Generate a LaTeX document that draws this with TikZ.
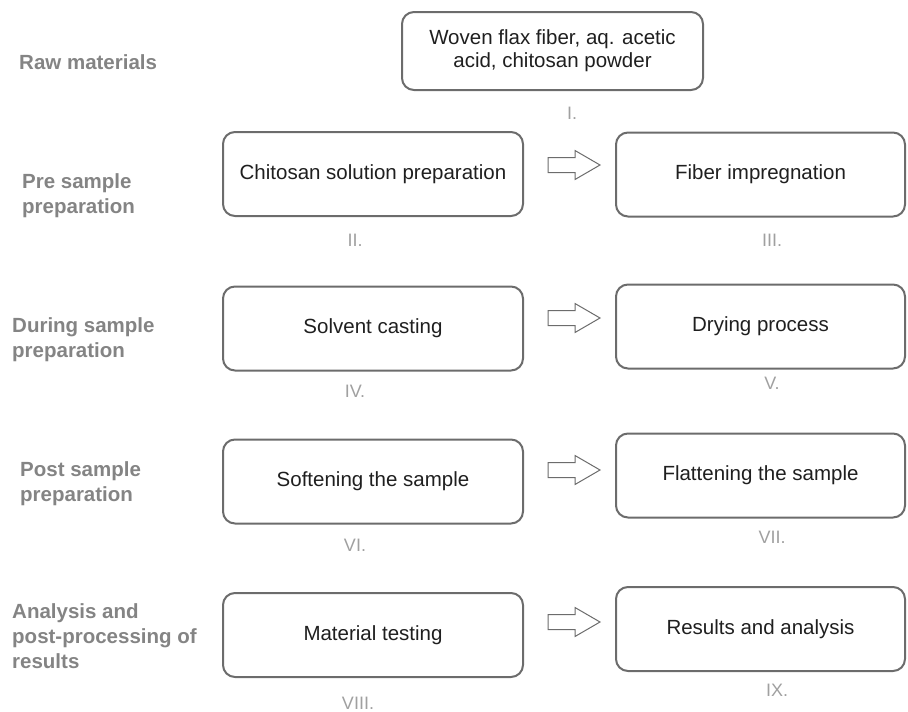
\documentclass[tikz,border=0pt]{standalone}
\usepackage{fontspec}
\setmainfont{Liberation Sans}
\definecolor{boxgray}{HTML}{6C6C6C}
\definecolor{numgray}{HTML}{A0A0A0}
\definecolor{stagegray}{HTML}{848484}
\tikzset{
  stepbox/.style={draw=boxgray, line width=2pt, rounded corners=12pt,
    minimum height=84pt, align=center, text=black!88,
    font=\fontsize{20.5}{23}\selectfont},
  leftbox/.style={stepbox, minimum width=300pt},
  rightbox/.style={stepbox, minimum width=289pt},
  numlabel/.style={text=numgray, font=\fontsize{18}{21}\selectfont},
  stagelabel/.style={text=stagegray, anchor=north west, inner sep=0pt, align=left,
    font=\bfseries\fontsize{20.5}{25}\selectfont},
  flowarrow/.style={draw=boxgray, line width=1pt, fill=white, line join=miter}
}
\begin{document}
\begin{tikzpicture}[x=1pt, y=-1pt]
  \useasboundingbox (0,0) rectangle (908,712);

  % stages
  \node[stagelabel] (sraw) at (19,54) {Raw materials};
  \node[stagelabel] (spre) at (22,173) {Pre sample\\preparation};
  \node[stagelabel] (sdur) at (12,317) {During sample\\preparation};
  \node[stagelabel] (spost) at (20,461) {Post sample\\preparation};
  \node[stagelabel] (sana) at (12,603) {Analysis and\\post-processing of\\results};

  % process steps
  \node[stepbox, minimum width=301pt, minimum height=78pt] (raw) at (552.5,51) {Woven flax fiber, aq. acetic\\acid, chitosan powder};
  \node[leftbox] (solprep) at (373,174) {Chitosan solution preparation};
  \node[rightbox] (impreg) at (760.5,174.5) {Fiber impregnation};
  \node[leftbox] (casting) at (373,328.5) {Solvent casting};
  \node[rightbox] (drying) at (760.5,326.5) {Drying process};
  \node[leftbox] (soften) at (373,481.5) {Softening the sample};
  \node[rightbox] (flatten) at (760.5,475.5) {Flattening the sample};
  \node[leftbox] (testing) at (373,635) {Material testing};
  \node[rightbox] (results) at (760.5,629) {Results and analysis};

  % step numbers
  \node[numlabel] (n1) at (572,113) {I.};
  \node[numlabel] (n2) at (355,240) {II.};
  \node[numlabel] (n3) at (772,240) {III.};
  \node[numlabel] (n4) at (355,391) {IV.};
  \node[numlabel] (n5) at (772,383) {V.};
  \node[numlabel] (n6) at (355,545) {VI.};
  \node[numlabel] (n7) at (772,537) {VII.};
  \node[numlabel] (n8) at (358,703) {VIII.};
  \node[numlabel] (n9) at (777,690) {IX.};

  % block arrows
  \foreach \ay [count=\i] in {165,318,470,622} {
    \coordinate (arr\i) at (548,\ay);
    \draw[flowarrow] (arr\i) ++(0,-7.5) -- ++(27,0) -- ++(0,-7) -- ++(25,14.5)
      -- ++(-25,14.5) -- ++(0,-7) -- ++(-27,0) -- cycle;
  }
\end{tikzpicture}
\end{document}
